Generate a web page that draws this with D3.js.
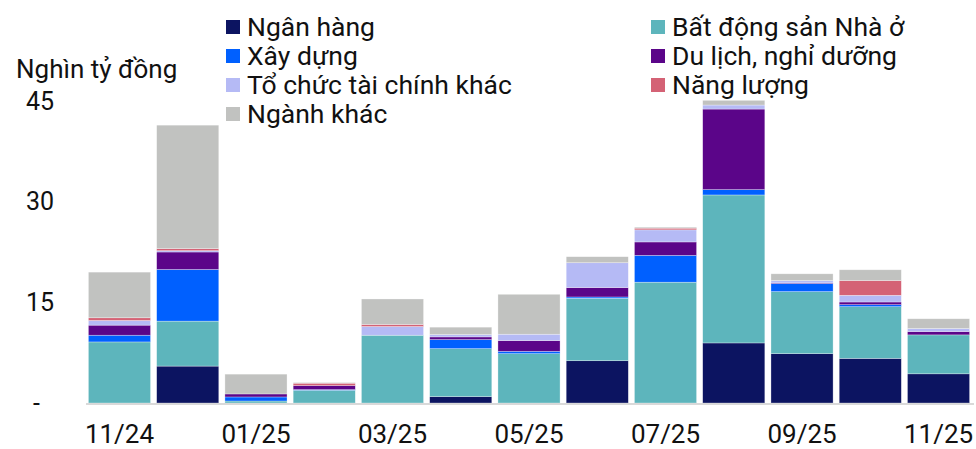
<!DOCTYPE html>
<html>
   <head>
      <meta charset="utf-8">
      <style>
         body { margin: 0; background: #fff; }
         text { font-family: Roboto, "Noto Sans", sans-serif; fill: #111; }
         .bar { stroke: #fff; stroke-width: 0.6; stroke-opacity: 0.5; }
      </style>
      <script src="https://cdn.jsdelivr.net/npm/d3@7/dist/d3.min.js"></script>
   </head>

   <body>
      <svg width="976" height="449"></svg>
      <script>
        var months = ["11/24", "12/24", "01/25", "02/25", "03/25", "04/25", "05/25",
                      "06/25", "07/25", "08/25", "09/25", "10/25", "11/25"];
        var xLabels = ["11/24", "01/25", "03/25", "05/25", "07/25", "09/25", "11/25"];
        var yTicks = [0, 15, 30, 45];

        var names = ["Ngân hàng", "Bất động sản Nhà ở", "Xây dựng", "Du lịch, nghỉ dưỡng",
                     "Tổ chức tài chính khác", "Năng lượng", "Ngành khác"];
        var colors = ["#0c1461", "#5db5bc", "#0060ff", "#5b0589", "#b5baf5", "#d46275", "#c1c2c0"];

        // nghìn tỷ đồng
        var nganHang   = [0,   5.5, 0,    0,   0,    0.95, 0,    6.3, 0,    8.95,  7.35, 6.65, 4.35];
        var batDongSan = [9.1, 6.7, 0.3,  1.9, 10.1, 7.15, 7.35, 9.3, 18.0, 22.05, 9.25, 7.7,  5.8];
        var xayDung    = [1.0, 7.7, 0.6,  0.1, 0,    1.35, 0.35, 0.2, 4.0,  0.8,   1.2,  0.3,  0];
        var duLich     = [1.5, 2.6, 0.45, 0.6, 0,    0.4,  1.6,  1.4, 2.0,  12.0,  0.1,  0.4,  0.5];
        var taiChinh   = [0.7, 0.2, 0,    0,   1.3,  0.35, 0.95, 3.7, 1.8,  0.6,   0.35, 1.0,  0.45];
        var nangLuong  = [0.4, 0.3, 0,    0.35, 0.3, 0,    0,    0,   0.25, 0,     0,    2.2,  0];
        var nganhKhac  = [6.8, 18.4, 2.95, 0.1, 3.8, 1.1,  5.95, 0.9, 0.15, 0.7,   1.0,  1.6,  1.45];

        var series = [nganHang, batDongSan, xayDung, duLich, taiChinh, nangLuong, nganhKhac];

        var table = months.map(function(m, i) {
            var row = { month: m };
            names.forEach(function(n, k) { row[n] = series[k][i]; });
            return row;
        });

        var stacked = d3.stack().keys(names)(table);

        var svg = d3.select("svg");

        var x = d3.scaleBand().domain(months).range([85, 973])
            .paddingInner(0.09).paddingOuter(0.05);
        var y = d3.scaleLinear().domain([0, 45]).range([403, 101]);

        // bars
        svg.append("g").selectAll("g")
            .data(stacked)
            .enter()
            .append("g")
            .attr("fill", function(d, i) { return colors[i]; })
            .selectAll("rect")
            .data(function(d) { return d; })
            .enter()
            .append("rect")
            .attr("class", "bar")
            .attr("x", function(d) { return x(d.data.month); })
            .attr("y", function(d) { return y(d[1]); })
            .attr("width", x.bandwidth())
            .attr("height", function(d) { return y(d[0]) - y(d[1]); });

        // baseline
        svg.append("line")
            .attr("x1", 86).attr("x2", 974)
            .attr("y1", y(0) + 1).attr("y2", y(0) + 1)
            .attr("stroke", "#d9d9d9").attr("stroke-width", 2);

        // y axis labels
        var yAxis = svg.append("g")
            .attr("transform", "translate(54,0)")
            .call(d3.axisLeft(y).tickValues(yTicks).tickSize(0).tickPadding(0)
                .tickFormat(function(d) { return d === 0 ? "-" : d; }));
        yAxis.select(".domain").remove();
        yAxis.selectAll("text")
            .attr("font-size", 25)
            .attr("font-family", "Roboto, sans-serif")
            .attr("fill", "#111")
            .attr("x", function(d) { return d === 0 ? -14 : 0; });

        // x axis labels
        var xAxis = svg.append("g")
            .attr("transform", "translate(0," + y(0) + ")")
            .call(d3.axisBottom(x).tickValues(xLabels).tickSize(0).tickPadding(22));
        xAxis.select(".domain").remove();
        xAxis.selectAll("text")
            .attr("font-size", 26)
            .attr("font-family", "Roboto, sans-serif")
            .attr("fill", "#111");

        // unit
        svg.append("text")
            .attr("x", 16).attr("y", 78)
            .attr("font-size", 26)
            .text("Nghìn tỷ đồng");

        // legend: two columns, filled row by row
        var legend = svg.append("g").selectAll("g")
            .data(names)
            .enter()
            .append("g")
            .attr("transform", function(d, i) {
                var col = i % 2, row = Math.floor(i / 2);
                return "translate(" + (col === 0 ? 226 : 651) + "," + (27 + row * 29) + ")";
            });

        legend.append("rect")
            .attr("x", 0).attr("y", -7)
            .attr("width", 14).attr("height", 14)
            .attr("fill", function(d, i) { return colors[i]; });

        legend.append("text")
            .attr("x", 21).attr("y", 9)
            .attr("font-size", 26.5)
            .text(function(d) { return d; });
      </script>
   </body>
</html>
